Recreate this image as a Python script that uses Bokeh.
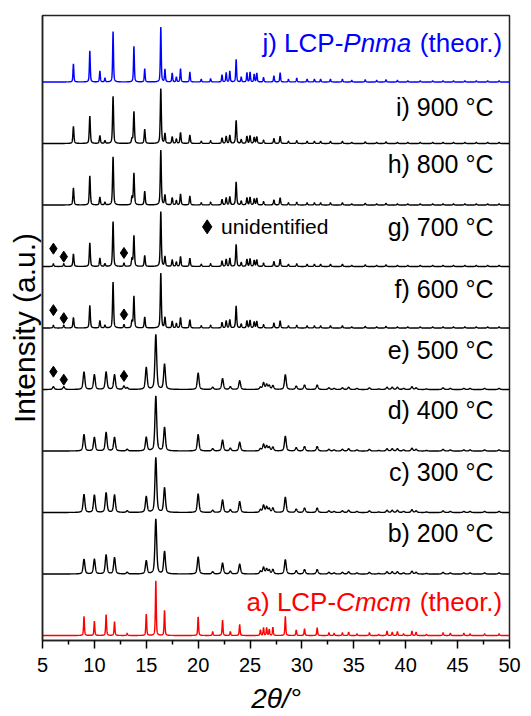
import numpy as np
from bokeh.plotting import figure
from bokeh.models import Range1d, FixedTicker
from bokeh.embed import file_html
from bokeh.resources import INLINE
from bokeh.core.properties import value

FONT = "Liberation Sans"

# ---- Pnma phase: main reflections (2-theta, deg) ----
pnma_major_pos = [7.98, 9.56, 10.53, 11.02, 11.80, 13.62, 13.81, 14.85, 16.40,
                  16.80, 17.50, 17.90, 18.30, 19.20, 23.66]
# relative intensities (strongest = 100)
int_j = [33, 57, 20, 7, 92, 0, 65, 24, 100, 23, 16, 9, 24, 18, 41]
int_i = [31, 50, 14, 5, 86, 8, 58, 26, 100, 18, 12, 8, 20, 15, 42]
int_h = [31, 53, 14, 5, 88, 14, 58, 25, 100, 18, 13, 8, 20, 16, 42]
int_g = [23, 43, 15, 5, 82, 14, 56, 20, 100, 18, 12, 8, 18, 15, 40]
int_f = [19, 41, 13, 5, 84, 12, 58, 20, 100, 19, 12, 8, 19, 15, 40]

# ---- Pnma phase: weak reflections ----
pnma_minor_pos = [20.3, 21.2, 22.3, 22.7, 23.05, 24.15, 24.7, 25.0, 25.4, 25.65,
                  26.3, 27.3, 27.9, 28.7, 29.5, 30.5, 31.2, 31.8, 32.75, 33.9,
                  34.8, 36.1, 37.2, 38.1, 39.2, 40.2, 41.4, 42.6, 43.6, 44.6,
                  45.7, 46.8, 47.9, 49.0]
pnma_minor_theor = [5, 6, 13, 17, 20, 9, 17, 18, 14, 16,
                    8, 11, 17, 5, 7, 5, 5, 5, 5, 5,
                    3, 4, 3, 4, 3, 2, 2, 2, 2, 2,
                    2, 2, 2, 2]
pnma_minor_exp = [4, 5, 10, 13, 15, 7, 13, 14, 11, 12,
                  6, 9, 13, 4, 5, 4, 4, 4, 4, 4,
                  2, 3, 2, 3, 2, 2, 2, 2, 2, 2,
                  2, 2, 2, 2]

# ---- Cmcm phase reflections ----
cmcm_pos = [9.0, 10.0, 11.13, 11.94, 13.16, 15.0, 15.92, 16.76, 20.0, 21.4,
            22.35, 23.1, 24.0, 26.0, 26.3, 26.6, 26.85, 27.2, 28.4, 29.45,
            30.25, 31.47]
int_a = [35, 26, 38, 25, 4, 39, 100, 46, 34, 7,
         28, 7, 20, 10, 14, 14, 11, 15, 35, 10,
         12, 14]
int_b = [27, 27, 35, 30, 3, 24, 100, 41, 31, 4,
         20, 5, 18, 5, 12, 9, 7, 8, 26, 6,
         8, 8]
int_c = [33, 32, 36, 32, 3, 29, 100, 45, 34, 4,
         23, 5, 20, 5, 13, 10, 7, 8, 28, 6,
         8, 8]
int_d = [30, 25, 34, 25, 3, 25, 100, 43, 30, 4,
         20, 5, 16, 4, 12, 9, 7, 7, 27, 6,
         8, 8]
int_e = [32, 27, 32, 27, 3, 40, 100, 46, 30, 4,
         20, 5, 16, 4, 12, 9, 7, 7, 27, 6,
         8, 8]

cmcm_minor_pos = [32.6, 33.1, 33.9, 34.5, 35.3, 36.5, 37.4, 38.2, 38.7, 39.2,
                  39.8, 40.6, 41.0, 42.0, 43.6, 44.3, 45.6, 46.2, 47.6, 49.0]
cmcm_minor_theor = [5, 4, 5, 6, 3, 5, 2, 8, 6, 7,
                    3, 8, 6, 2, 5, 4, 4, 3, 3, 3]
cmcm_minor_exp = [3, 2, 3, 4, 2, 3, 1, 4, 4, 4,
                  2, 5, 3, 1, 3, 2, 2, 2, 2, 2]

# ---- unidentified reflections (marked with diamonds) ----
unid_pos = [6.05, 7.05, 12.85]
unid_int = [5, 5, 6]
unid_marker_height = [0.29, 0.16, 0.22]

labels = ["a) LCP-", "b) 200 °C", "c) 300 °C", "d) 400 °C", "e) 500 °C",
          "f) 600 °C", "g) 700 °C", "h) 800 °C", "i) 900 °C", "j) LCP-"]

two_theta = np.linspace(5, 50, 4501)
SCALE = 0.0089          # relative intensity -> stacked-axis units
SPACING = 1.0           # vertical offset between patterns


def pattern(pos, inten, fwhm):
    y = np.zeros_like(two_theta)
    hw = fwhm / 2.0
    for p0, a in zip(pos, inten):
        d = (two_theta - p0) / hw
        y += a * (0.5 / (1.0 + d * d) + 0.5 * np.exp(-np.log(2.0) * d * d))
    return y * SCALE


traces = [
    (cmcm_pos + cmcm_minor_pos, int_a + cmcm_minor_theor, 0.10, "#ff0000", False),
    (cmcm_pos + cmcm_minor_pos, int_b + cmcm_minor_exp, 0.20, "black", False),
    (cmcm_pos + cmcm_minor_pos, int_c + cmcm_minor_exp, 0.20, "black", False),
    (cmcm_pos + cmcm_minor_pos, int_d + cmcm_minor_exp, 0.20, "black", False),
    (cmcm_pos + cmcm_minor_pos, int_e + cmcm_minor_exp, 0.20, "black", True),
    (pnma_major_pos + pnma_minor_pos, int_f + pnma_minor_exp, 0.12, "black", True),
    (pnma_major_pos + pnma_minor_pos, int_g + pnma_minor_exp, 0.12, "black", True),
    (pnma_major_pos + pnma_minor_pos, int_h + pnma_minor_exp, 0.12, "black", False),
    (pnma_major_pos + pnma_minor_pos, int_i + pnma_minor_exp, 0.12, "black", False),
    (pnma_major_pos + pnma_minor_pos, int_j + pnma_minor_theor, 0.10, "#0000ff", False),
]

p = figure(width=531, height=716, output_backend="svg", toolbar_location=None,
           x_range=Range1d(5, 50), y_range=Range1d(-0.0812, 10.081),
           min_border_left=42, min_border_right=22, min_border_top=15,
           min_border_bottom=75)
p.background_fill_color = "white"
p.border_fill_color = "white"
p.grid.visible = False
p.outline_line_color = "#222222"
p.outline_line_width = 1.5

for k, (pos, inten, fw, col, unid) in enumerate(traces):
    pos = list(pos)
    inten = list(inten)
    if unid:
        pos += unid_pos
        inten += unid_int
    y = pattern(pos, inten, fw) + k * SPACING
    p.line(two_theta, y, line_color=col, line_width=1.4)
    if unid:
        p.scatter(unid_pos, [k * SPACING + h for h in unid_marker_height],
                  marker="diamond", size=11, color="black")

# right-hand pattern labels
label_y_shift = [0.55, 0.66, 0.66, 0.66, 0.64, 0.64, 0.64, 0.66, 0.60, 0.64]
fs = 26
for k, lab in enumerate(labels):
    yy = k * SPACING + label_y_shift[k]
    if k in (0, 9):
        col = "#ff0000" if k == 0 else "#0000ff"
        ital = "Cmcm" if k == 0 else "Pnma"
        w_tail = 3.223 * fs + 0.278 * fs
        w_ital = (2.888 if k == 0 else 2.612) * fs
        xr = 49.30
        p.text([xr], [yy], text=["(theor.)"], text_align="right",
               text_baseline="middle", text_font=value(FONT),
               text_font_size=f"{fs}px", text_color=col)
        p.text([xr], [yy], text=[ital], text_align="right",
               text_baseline="middle", text_font=value(FONT),
               text_font_size=f"{fs}px", text_font_style="italic",
               text_color=col, x_offset=-w_tail)
        p.text([xr], [yy], text=[lab], text_align="right",
               text_baseline="middle", text_font=value(FONT),
               text_font_size=f"{fs}px", text_color=col,
               x_offset=-(w_tail + w_ital))
    else:
        p.text([48.46], [yy], text=[lab], text_align="right",
               text_baseline="middle", text_font=value(FONT),
               text_font_size=f"{fs - 1}px", text_color="black")

# legend for the unidentified reflections
p.scatter([20.87], [6.645], marker="diamond", size=14, color="black")
p.text([22.2], [6.645], text=["unidentified"], text_align="left",
       text_baseline="middle", text_font=value(FONT),
       text_font_size="21px", text_color="black")

# axes
xa = p.xaxis[0]
xa.ticker = FixedTicker(ticks=list(range(5, 51, 5)),
                        minor_ticks=[7.5 + 5 * i for i in range(9)])
xa.major_tick_in = 0
xa.major_tick_out = 8
xa.minor_tick_in = 0
xa.minor_tick_out = 4
xa.axis_line_width = 1.5
xa.axis_line_color = "#222222"
xa.major_tick_line_width = 1.5
xa.minor_tick_line_width = 1.5
xa.major_label_text_font = FONT
xa.major_label_text_font_size = "20px"
xa.major_label_text_color = "black"
xa.major_label_standoff = 9
xa.axis_label = "2θ/°"
xa.axis_label_text_font = FONT
xa.axis_label_text_font_size = "28px"
xa.axis_label_text_font_style = "italic"
xa.axis_label_text_color = "black"
xa.axis_label_standoff = 8

ya = p.yaxis[0]
ya.ticker = FixedTicker(ticks=[])
ya.major_label_text_font_size = "0px"
ya.major_label_standoff = 0
ya.axis_line_width = 1.5
ya.axis_line_color = "#222222"
ya.axis_label = "Intensity (a.u.)"
ya.axis_label_text_font = FONT
ya.axis_label_text_font_size = "30px"
ya.axis_label_text_font_style = "normal"
ya.axis_label_text_color = "black"
ya.axis_label_standoff = 2

open("out.html", "w").write(file_html(p, INLINE))
